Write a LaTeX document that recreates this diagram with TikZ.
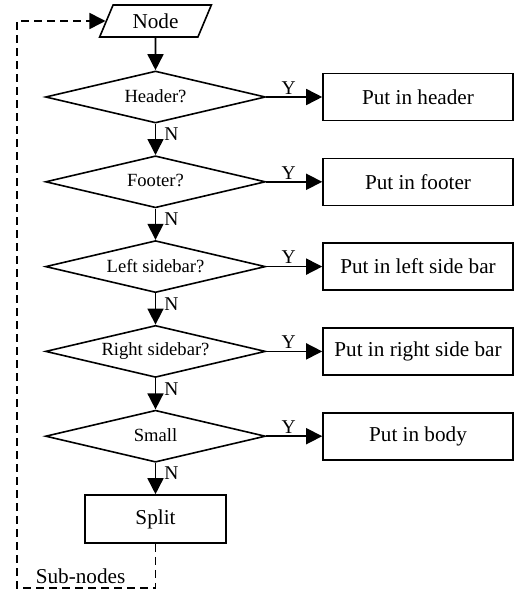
\documentclass[tikz,border=0pt]{standalone}
\usepackage{fontspec}
\setmainfont{Liberation Serif}
\usetikzlibrary{shapes.geometric,arrows.meta}
\begin{document}
\begin{tikzpicture}[x=1pt,y=-1pt,
  line width=1.6pt,
  arr/.style={-{Triangle[length=16pt,width=16pt]}},
  dec/.style={diamond, draw, minimum width=220pt, minimum height=52pt, aspect=4.2, inner sep=0pt, font=\fontsize{18.6}{20}\selectfont},
  act/.style={rectangle, draw, minimum width=190pt, minimum height=47pt, inner sep=0pt, font=\fontsize{21.2}{24}\selectfont},
  io/.style={trapezium, draw, trapezium left angle=64, trapezium right angle=116, trapezium stretches=true, minimum width=112pt, minimum height=32pt, inner sep=0pt, font=\fontsize{21.2}{24}\selectfont},
  ylab/.style={font=\fontsize{19.5}{20}\selectfont, inner sep=2pt, above, pos=0.4},
  nlab/.style={font=\fontsize{19.5}{20}\selectfont, inner sep=2pt, anchor=west, pos=0.34, xshift=6pt},
  dsh/.style={dash pattern=on 8pt off 5pt}
]
\useasboundingbox (0,0) rectangle (515,591);
\node[io] (start) at (155.5,21) {Node};
\node[dec] (d1) at (155.5,97) {\raisebox{2pt}{Header?}};
\node[dec] (d2) at (155.5,181.8) {\raisebox{2pt}{Footer?}};
\node[dec] (d3) at (155.5,266.6) {\raisebox{2pt}{Left sidebar?}};
\node[dec] (d4) at (155.5,351.4) {\raisebox{2pt}{Right sidebar?}};
\node[dec] (d5) at (155.5,436.2) {\raisebox{2pt}{Small}};
\node[act] (b1) at (418,97) {Put in header};
\node[act] (b2) at (418,181.8) {Put in footer};
\node[act] (b3) at (418,266.6) {Put in left side bar};
\node[act] (b4) at (418,351.4) {Put in right side bar};
\node[act] (b5) at (418,436.2) {Put in body};
\node[act, minimum width=141pt, minimum height=48pt] (split) at (155.5,519) {Split};
\node[font=\fontsize{21.2}{24}\selectfont, inner sep=0pt, anchor=base west] (sub) at (35,583) {Sub-nodes};

\draw[arr] (start.south) -- (d1.north);
\draw[arr] (d1.south) -- node[nlab]{N} (d2.north);
\draw[arr] (d2.south) -- node[nlab]{N} (d3.north);
\draw[arr] (d3.south) -- node[nlab]{N} (d4.north);
\draw[arr] (d4.south) -- node[nlab]{N} (d5.north);
\draw[arr] (d5.south) -- node[nlab]{N} (split.north);
\draw[arr] (d1.east) -- node[ylab]{Y} (b1.west);
\draw[arr] (d2.east) -- node[ylab]{Y} (b2.west);
\draw[arr] (d3.east) -- node[ylab]{Y} (b3.west);
\draw[arr] (d4.east) -- node[ylab]{Y} (b4.west);
\draw[arr] (d5.east) -- node[ylab]{Y} (b5.west);

\coordinate (c1) at (17,588);
\draw[arr, dsh] (split.south) |- (c1) |- (start.west);
\end{tikzpicture}
\end{document}
